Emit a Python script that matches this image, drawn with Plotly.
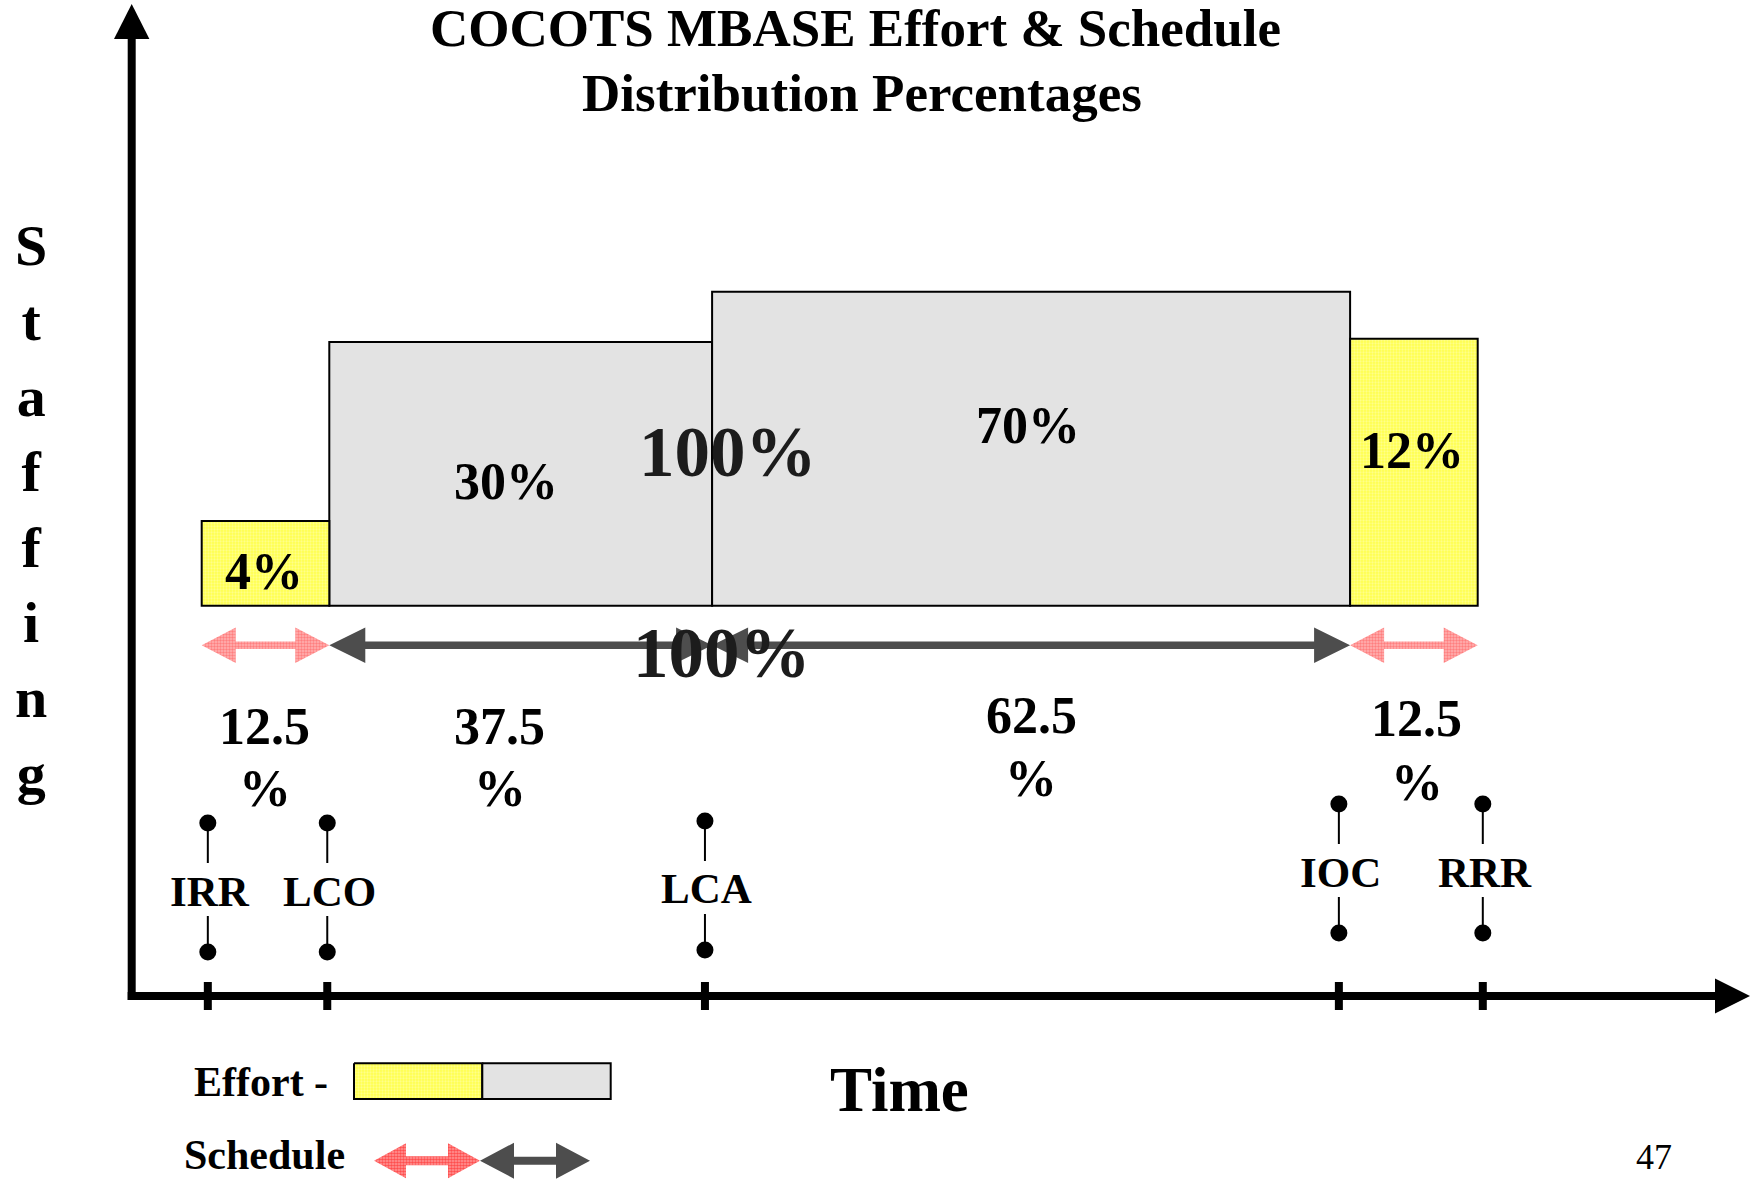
import plotly.graph_objects as go

# ---------------------------------------------------------------- data
phases = ["Inception", "Elaboration", "Construction", "Transition"]
schedule_pct = [12.5, 37.5, 62.5, 12.5]      # share of the LCO-IOC schedule
effort_pct = [4, 30, 70, 12]                 # share of the LCO-IOC effort
staffing = [27, 84, 100, 85]                 # relative staffing level
milestones = ["IRR", "LCO", "LCA", "IOC", "RRR"]
milestone_time = [-11.9, -0.2, 36.8, 98.9, 113.0]

# --------------------------------------------------------------- layout
W, H = 1751, 1181
FONT = "Liberation Serif"
YELLOW_BG, YELLOW_FG = "#ffff4d", "#ffffc8"
GRAY = "#e3e3e3"
DARK = "#4d4d4d"

# time axis: t = 0 at LCO, 100 at IOC ; staffing axis: 0 at the bar base
T0_PX, PX_PER_T = 329.3, 10.208
S0_PX, PX_PER_S = 605.7, 3.14


def t_of(px):
    return (px - T0_PX) / PX_PER_T


def s_of(py):
    return (S0_PX - py) / PX_PER_S


def pxx(px):
    return px / W


def pxy(py):
    return 1 - py / H


extra_phases = [0, 3]          # drawn in yellow
core_phases = [1, 2]           # drawn in gray

bounds = [-schedule_pct[0]]
for w in schedule_pct:
    bounds.append(bounds[-1] + w)
centers = [(bounds[i] + bounds[i + 1]) / 2 for i in range(len(phases))]

fig = go.Figure()

# ---------------------------------------------------------------- bars
YELLOW_PAT = dict(shape=".", bgcolor=YELLOW_BG, fgcolor=YELLOW_FG,
                  size=3, solidity=0.45)
for idx, core in ((core_phases, True), (extra_phases, False)):
    marker = dict(color=GRAY if core else YELLOW_BG,
                  line=dict(color="black", width=2))
    if not core:
        marker["pattern"] = YELLOW_PAT
    fig.add_trace(go.Bar(
        x=[centers[i] for i in idx],
        y=[staffing[i] for i in idx],
        width=[schedule_pct[i] for i in idx],
        base=0, marker=marker, hoverinfo="skip",
    ))


# ------------------------------------------------------ schedule arrows
def arrow_trace(t0, t1, py, head_px, half_px, shaft_px, fill, pattern=None):
    hl = head_px / PX_PER_T
    hh = half_px / PX_PER_S
    sh = shaft_px / PX_PER_S
    yc = s_of(py)
    xs = [t0, t0 + hl, t0 + hl, t1 - hl, t1 - hl, t1, t1 - hl, t1 - hl,
          t0 + hl, t0 + hl, t0]
    ys = [yc, yc + hh, yc + sh, yc + sh, yc + hh, yc, yc - hh, yc - sh,
          yc - sh, yc - hh, yc]
    kw = dict(x=xs, y=ys, mode="lines", fill="toself", fillcolor=fill,
              line=dict(width=0, color=fill), hoverinfo="skip")
    if pattern:
        kw["fillpattern"] = pattern
    return go.Scatter(**kw)


PINK_PAT = dict(shape=".", bgcolor="#ffb4b4", fgcolor="#ff4848",
                size=3, solidity=0.5)
RED_PAT = dict(shape=".", bgcolor="#ff9c9c", fgcolor="#ff0000",
               size=3, solidity=0.6)

ARROW_PY = 645.3
for i in range(len(phases)):
    if i in extra_phases:
        fig.add_trace(arrow_trace(bounds[i], bounds[i + 1], ARROW_PY, 34, 17.8,
                                  3.7, "#ff8a8a", PINK_PAT))
    else:
        fig.add_trace(arrow_trace(bounds[i], bounds[i + 1], ARROW_PY, 36, 17.8,
                                  3.7, DARK))

# ----------------------------------------------------------- milestones
label_py = [891, 891, 889, 872, 872]
dot_x, dot_y, seg_x, seg_y = [], [], [], []
for t, py in zip(milestone_time, label_py):
    dot_x += [t, t]
    dot_y += [s_of(py - 68), s_of(py + 61)]
    seg_x += [t, t, None, t, t, None]
    seg_y += [s_of(py - 68), s_of(py - 28), None,
              s_of(py + 25), s_of(py + 61), None]
fig.add_trace(go.Scatter(x=seg_x, y=seg_y, mode="lines",
                         line=dict(color="black", width=2), hoverinfo="skip"))
fig.add_trace(go.Scatter(x=dot_x, y=dot_y, mode="markers",
                         marker=dict(color="black", size=17), hoverinfo="skip"))


# --------------------------------------------------------------- legend
def box_trace(px0, px1, py0, py1, fill, pattern=None):
    xs = [t_of(px0), t_of(px1), t_of(px1), t_of(px0), t_of(px0)]
    ys = [s_of(py0), s_of(py0), s_of(py1), s_of(py1), s_of(py0)]
    kw = dict(x=xs, y=ys, mode="lines", fill="toself", fillcolor=fill,
              line=dict(color="black", width=2), hoverinfo="skip")
    if pattern:
        kw["fillpattern"] = pattern
    return go.Scatter(**kw)


fig.add_trace(box_trace(354, 482.3, 1063.3, 1099, YELLOW_BG, YELLOW_PAT))
fig.add_trace(box_trace(482.3, 610.7, 1063.3, 1099, GRAY))
fig.add_trace(arrow_trace(t_of(374), t_of(480), 1160.7, 32, 17.5, 4.5,
                          "#ff5050", RED_PAT))
fig.add_trace(arrow_trace(t_of(480), t_of(590), 1160.7, 34, 18, 4, DARK))

# ---------------------------------------------------------------- axes
shapes = []
shapes.append(dict(type="line", xref="paper", yref="paper",
                   x0=pxx(131.7), x1=pxx(131.7), y0=pxy(1000), y1=pxy(36),
                   line=dict(color="black", width=8)))
shapes.append(dict(type="line", xref="paper", yref="paper",
                   x0=pxx(127.7), x1=pxx(1718), y0=pxy(996), y1=pxy(996),
                   line=dict(color="black", width=8)))


def tri_path(pts):
    return "M " + " L ".join(f"{pxx(a):.5f},{pxy(b):.5f}" for a, b in pts) + " Z"


shapes.append(dict(type="path", xref="paper", yref="paper",
                   path=tri_path([(131.7, 4), (114, 39), (149.4, 39)]),
                   fillcolor="black", line=dict(width=0)))
shapes.append(dict(type="path", xref="paper", yref="paper",
                   path=tri_path([(1750, 996), (1715, 978.5), (1715, 1013.5)]),
                   fillcolor="black", line=dict(width=0)))
for t in milestone_time:
    shapes.append(dict(type="line", xref="x", yref="paper", x0=t, x1=t,
                       y0=pxy(1010), y1=pxy(982),
                       line=dict(color="black", width=8)))

# ---------------------------------------------------------------- texts
annotations = []


def add_text(px, py, s, size, weight="bold", color="black", xref="paper",
             xshift=0):
    annotations.append(dict(
        x=px if xref != "paper" else pxx(px), y=pxy(py), xref=xref,
        yref="paper", text=s, showarrow=False, xanchor="center",
        yanchor="middle", xshift=xshift,
        font=dict(family=FONT, size=size, color=color, weight=weight)))


add_text(855.5, 28, "COCOTS MBASE Effort &amp; Schedule", 53)
add_text(862, 93, "Distribution Percentages", 53)
add_text(31, 509, "<br>".join("Staffing"), 58)
add_text(899, 1090, "Time", 63)
add_text(260.5, 1082, "Effort -", 42)
add_text(264, 1155, "Schedule", 42)
add_text(1653.5, 1157, "47", 36, weight="normal")

# effort labels inside the bars
effort_py = [571, 482, 425, 451]
effort_dx = [-2, -15, -3, -2]
for i in range(len(phases)):
    add_text(centers[i], effort_py[i], f"{effort_pct[i]}%", 52, xref="x",
             xshift=effort_dx[i])

# schedule labels under the arrows
sched_py = [726, 726, 716, 718]
pct_py = [788, 788, 778, 782]
sched_dx = [-1, -21, 0, 3]
for i in range(len(phases)):
    add_text(centers[i], sched_py[i], f"{schedule_pct[i]:g}", 52, xref="x",
             xshift=sched_dx[i])
    add_text(centers[i], pct_py[i], "%", 52, xref="x", xshift=sched_dx[i])

# totals for the elaboration + construction span
total_effort = sum(effort_pct[i] for i in core_phases)
total_sched = sum(schedule_pct[i] for i in core_phases)
add_text(bounds[2], 452, f"{total_effort:g}%", 71, color="#1c1c1c", xref="x",
         xshift=16)
add_text(bounds[2], 653, f"{total_sched:g}%", 71, color="#1c1c1c", xref="x",
         xshift=10)

# milestone names
for t, py, name in zip(milestone_time, label_py, milestones):
    add_text(t, py, name, 43, xref="x", xshift=2)

fig.update_layout(
    width=W, height=H,
    margin=dict(l=0, r=0, t=0, b=0),
    paper_bgcolor="white", plot_bgcolor="white",
    showlegend=False, barmode="overlay",
    xaxis=dict(range=[t_of(0), t_of(W)], visible=False, fixedrange=True),
    yaxis=dict(range=[s_of(H), s_of(0)], visible=False, fixedrange=True),
    shapes=shapes, annotations=annotations,
)

fig.write_html("out.html", config={"displayModeBar": False})
